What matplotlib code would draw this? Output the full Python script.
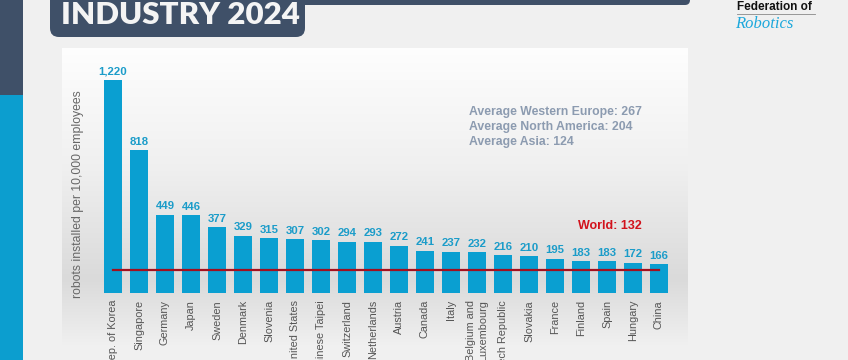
import numpy as np
import matplotlib
matplotlib.use("Agg")
import matplotlib.pyplot as plt
from matplotlib.patches import Rectangle, FancyBboxPatch

# ---------- data ---------- #
countries = ["Rep. of Korea", "Singapore", "Germany", "Japan", "Sweden", "Denmark",
             "Slovenia", "United States", "Chinese Taipei", "Switzerland", "Netherlands",
             "Austria", "Canada", "Italy", "Belgium and\nLuxembourg", "Czech Republic",
             "Slovakia", "France", "Finland", "Spain", "Hungary", "China"]
density = [1220, 818, 449, 446, 377, 329, 315, 307, 302, 294, 293,
           272, 241, 237, 232, 216, 210, 195, 183, 183, 172, 166]
world_avg = 132
averages = ["Average Western Europe: 267",
            "Average North America: 204",
            "Average Asia: 124"]

W, H = 848, 360
navy = "#3f5068"
bar_blue = "#0a9fd1"
lbl_blue = "#1b9cc9"

fig = plt.figure(figsize=(W / 100, H / 100), dpi=100, facecolor="#f0f0f0")

# background decorations in pixel coords
bg = fig.add_axes([0, 0, 1, 1])
bg.set_xlim(0, W)
bg.set_ylim(H, 0)
bg.axis("off")

# panel with vertical grey gradient
stops_y = [0, 0.4, 0.78, 1.0]
stops_c = [0.995, 0.94, 0.855, 0.94]
g = np.interp(np.linspace(0, 1, 200), stops_y, stops_c)
grad = np.repeat(g[:, None], 2, axis=1)
bg.imshow(np.dstack([grad, grad, grad]), extent=[62, 688, 345, 48],
          aspect="auto", zorder=0)

# left strip
bg.add_patch(Rectangle((0, 0), 23, 95, color=navy, lw=0))
bg.add_patch(Rectangle((0, 95), 23, 265, color="#0c9ecf", lw=0))

# title banner
bg.add_patch(FancyBboxPatch((50, -30), 255, 67, boxstyle="round,pad=0,rounding_size=9",
                            color=navy, lw=0))
bg.add_patch(FancyBboxPatch((290, -10), 400, 15, boxstyle="round,pad=0,rounding_size=5",
                            color=navy, lw=0))
bg.text(61, 24, "INDUSTRY 2024", color="#f4f4f4", fontsize=22.5, fontweight="heavy",
        family=["Lato", "DejaVu Sans"], va="baseline", ha="left")

# logo text
bg.text(737, 7, "Federation of", color="#111111", fontsize=8.5, fontweight="bold",
        family="Liberation Sans", va="center", ha="left")
bg.plot([737, 815], [13.5, 13.5], color="#888888", lw=0.6)
bg.text(735, 24, "Robotics", color="#1ca8dc", fontsize=12, style="italic",
        family="Liberation Serif", va="center", ha="left")

# ---------- bar chart ---------- #
ax = fig.add_axes([100 / W, (H - 293) / H, 572 / W, 227 / H])
ax.set_facecolor("none")
x = np.arange(len(countries))
ax.bar(x, density, width=0.71, color=bar_blue, zorder=2)
ax.plot([x[0], x[-1]], [world_avg, world_avg], color="#a3101e", lw=1.6, zorder=3)

for i, v in enumerate(density):
    ax.annotate(f"{v:,}", (i, v), xytext=(0, 2.5), textcoords="offset points",
                ha="center", va="bottom", color=lbl_blue, fontsize=8.2,
                fontweight="bold", family="Liberation Sans")

ax.set_xlim(-0.5, len(countries) - 0.5)
ax.set_ylim(0, 1300)
ax.set_xticks(x)
ax.set_xticklabels(countries, rotation=90, fontsize=7.8, color="#555555",
                   family="Liberation Sans", multialignment="right")
ax.tick_params(axis="x", length=0, pad=5)
ax.set_yticks([])
for s in ax.spines.values():
    s.set_visible(False)

ax.text(19.1, 384, "World: 132", color="#d2121c", fontsize=9, fontweight="bold",
        family="Liberation Sans", ha="center", va="center")

fig.text(78 / W, (H - 194) / H, "robots installed per 10,000 employees",
         rotation=90, color="#666666", fontsize=8.8, family="Liberation Sans",
         ha="center", va="center")

for k, line in enumerate(averages):
    fig.text(469 / W, (H - (112 + 15 * k)) / H, line, color="#8c9bb0", fontsize=8.8,
             fontweight="bold", family="Liberation Sans", ha="left", va="center")

fig.savefig("out.png", dpi=100, facecolor=fig.get_facecolor())
